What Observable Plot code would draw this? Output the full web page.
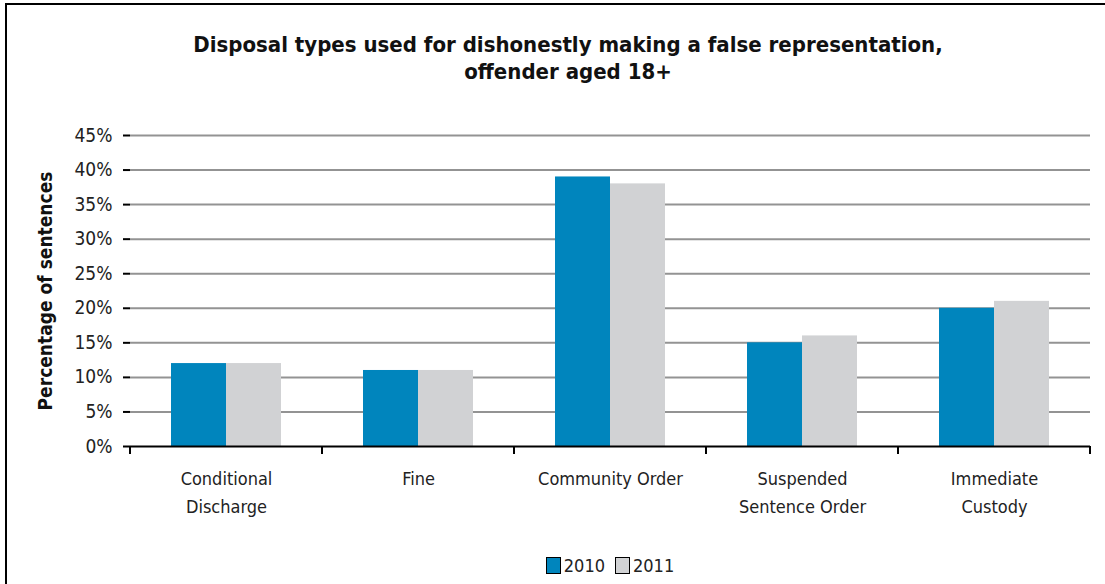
<!DOCTYPE html>
<html>
<head>
<meta charset="utf-8">
<script src="https://cdn.jsdelivr.net/npm/d3@7"></script>
<script src="https://cdn.jsdelivr.net/npm/@observablehq/plot@0.6"></script>
<style>
  html, body { margin: 0; padding: 0; background: #fff; }
  #page { position: relative; width: 1105px; height: 584px; overflow: hidden; }
  #topline { position: absolute; left: 5px; top: 3px; width: 1100px; height: 2px; background: #000; }
  #leftline { position: absolute; left: 5px; top: 3px; width: 2px; height: 581px; background: #000; }
  #title {
    position: absolute; left: 0; top: 31px; width: 1136px; text-align: center;
    font-family: "DejaVu Sans Condensed", "DejaVu Sans", sans-serif;
    font-weight: bold; font-size: 22px; line-height: 27px; color: #111;
  }
  #chart { position: absolute; left: 0; top: 122px; }
  #legend {
    position: absolute; left: 0; top: 555px; width: 1220px; text-align: center;
    font-family: "DejaVu Sans Condensed", "DejaVu Sans", sans-serif;
    font-size: 18px; color: #222;
  }
  .sw { display: inline-block; width: 13px; height: 15px; border: 1px solid #000; vertical-align: -2px; margin-right: 3px; }
  .item { margin: 0 5px; }
</style>
</head>
<body>
<div id="page">
  <div id="topline"></div>
  <div id="leftline"></div>
  <div id="title">Disposal types used for dishonestly making a false representation,<br>offender aged 18+</div>
  <div id="chart"></div>
  <div id="legend"></div>
</div>
<script>
const categories = ["Conditional Discharge", "Fine", "Community Order", "Suspended Sentence Order", "Immediate Custody"];
const categoryLabels = ["Conditional\nDischarge", "Fine", "Community Order", "Suspended\nSentence Order", "Immediate\nCustody"];
const years = ["2010", "2011"];
const values2010 = [12, 11, 39, 15, 20];
const values2011 = [12, 11, 38, 16, 21];
const yTicks = [0, 5, 10, 15, 20, 25, 30, 35, 40, 45];
const colors = ["#0085bd", "#d1d2d4"];

const data = [];
categories.forEach((c, i) => {
  data.push({category: c, year: "2010", value: values2010[i]});
  data.push({category: c, year: "2011", value: values2011[i]});
});

const font = '"DejaVu Sans Condensed", "DejaVu Sans", sans-serif';

const chart = Plot.plot({
  width: 1105,
  height: 415,
  marginTop: 13,
  marginLeft: 130,
  marginRight: 15,
  marginBottom: 91,
  style: {fontFamily: font, fontSize: "18px", color: "#222", background: "transparent"},
  fx: {domain: categories, padding: 0, label: null},
  x: {domain: years, paddingInner: 0, paddingOuter: 0.73, axis: null},
  y: {domain: [0, 45], label: null},
  color: {domain: years, range: colors},
  marks: [
    Plot.ruleY(yTicks.filter(d => d > 0), {stroke: "#939393", strokeWidth: 2}),
    Plot.barY(data, {fx: "category", x: "year", y: "value", fill: "year"}),
    Plot.ruleY([0], {stroke: "#000", strokeWidth: 2}),
    Plot.axisY({ticks: yTicks, tickFormat: d => d + "%", tickSize: 7, tickPadding: 11, line: true, stroke: "#000", strokeWidth: 2, fontSize: 19, label: null}),
    Plot.axisFx({anchor: "bottom", tickSize: 0, tickPadding: 19, tickFormat: d => categoryLabels[categories.indexOf(d)], lineHeight: 1.55, label: null}),
    Plot.text(["Percentage of sentences"], {fx: () => categories[0], frameAnchor: "left", textAnchor: "middle", rotate: -90, dx: -85, fontWeight: "bold", fontSize: 19, fill: "#111"})
  ]
});
document.getElementById("chart").appendChild(chart);

// boundary tick marks along the category axis, placed using the fx and y scales
const fx = chart.scale("fx");
const ys = chart.scale("y");
const bw = fx.bandwidth;
const edges = categories.map(c => fx.apply(c)).concat([fx.apply(categories[categories.length - 1]) + bw]);
const y0 = ys.apply(0);
d3.select(chart).append("g")
  .selectAll("line").data(edges).join("line")
  .attr("x1", d => d).attr("x2", d => d)
  .attr("y1", y0).attr("y2", y0 + 8)
  .attr("stroke", "#000").attr("stroke-width", 2);

// legend
const leg = d3.select("#legend");
years.forEach((yr, i) => {
  const it = leg.append("span").attr("class", "item");
  it.append("span").attr("class", "sw").style("background", colors[i]);
  it.append("span").text(yr);
});
</script>
</body>
</html>
